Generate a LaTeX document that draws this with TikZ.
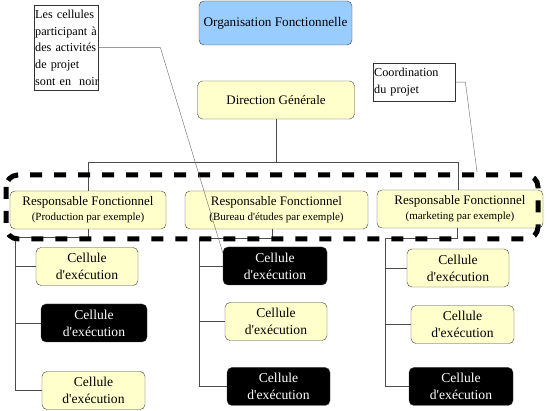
\documentclass[tikz,border=0pt]{standalone}
\usepackage{fontspec}
\setmainfont{Liberation Serif}
\usetikzlibrary{positioning}
\definecolor{jaune}{HTML}{FFFFCC}
\definecolor{bleu}{HTML}{99CCFF}
\newcommand{\apos}{\textquotesingle}

\begin{document}
\begin{tikzpicture}[x=1pt,y=-1pt,
		boite/.style={draw=black!75,rounded corners=5pt,fill=jaune,inner sep=0pt,align=center,font=\fontsize{13}{15}\selectfont},
		cellule/.style={boite,minimum width=103pt,minimum height=38pt,font=\fontsize{13.6}{17}\selectfont},
		noire/.style={cellule,fill=black,text=white},
		note/.style={draw=black!80,inner sep=1pt,align=left,font=\fontsize{12.2}{16.7}\selectfont},
		lien/.style={draw=black!70}]
		\useasboundingbox (0,0) rectangle (547,411);
		% haut
		\node [boite,fill=bleu,minimum width=153pt,minimum height=44pt,font=\fontsize{13.2}{15}\selectfont] (Org) at (275.5,23) {Organisation Fonctionnelle};
		\node [boite,minimum width=157pt,minimum height=38pt] (Dir) at (276,100) {Direction G\'en\'erale};
		\node [boite,minimum width=156pt,minimum height=38pt] (R1) at (88,210) {Responsable Fonctionnel\\{\fontsize{11}{12}\selectfont (Production par exemple)}};
		\node [boite,minimum width=183pt,minimum height=38pt] (R2) at (276.5,210) {Responsable Fonctionnel\\{\fontsize{11}{12}\selectfont (Bureau d\apos\'etudes par exemple)}};
		\node [boite,minimum width=166pt,minimum height=38pt] (R3) at (460,209) {Responsable Fonctionnel\\{\fontsize{11}{12}\selectfont (marketing par exemple)}};
		% cellules
		\node [cellule,minimum width=102pt] (C1a) at (87,266.5) {Cellule\\d\apos ex\'ecution};
		\node [noire,minimum width=106pt] (C1b) at (94,323) {Cellule\\d\apos ex\'ecution};
		\node [cellule] (C1c) at (93.5,390.5) {Cellule\\d\apos ex\'ecution};
		\node [noire,minimum width=104pt] (C2a) at (275,266) {Cellule\\d\apos ex\'ecution};
		\node [cellule,minimum width=102pt] (C2b) at (276,321.5) {Cellule\\d\apos ex\'ecution};
		\node [noire] (C2c) at (278.5,386.5) {Cellule\\d\apos ex\'ecution};
		\node [cellule,minimum width=102pt] (C3a) at (458,268) {Cellule\\d\apos ex\'ecution};
		\node [cellule] (C3b) at (462.5,324.5) {Cellule\\d\apos ex\'ecution};
		\node [noire,minimum width=104pt] (C3c) at (461,386.5) {Cellule\\d\apos ex\'ecution};
		% notes
		\node [note,text width=62pt,minimum height=85pt,anchor=north west] (N1) at (34,5) {\mbox{Les cellules}\\\mbox{participant \`a}\\\mbox{des activit\'es}\\\mbox{de projet}\\\mbox{sont en\ \ noir}};
		\node [note,text width=80pt,minimum height=38pt,anchor=north west] (N2) at (373,63) {Coordination\\du projet};
		% liaisons
		\coordinate (Barre) at (0,162);
		\draw [lien] (Dir.south) -- (Dir.south |- Barre);
		\draw [lien] (R1.north) -- (R1.north |- Barre) -| ([xshift=-2pt]R3.north);
		\coordinate (S1) at (15,237);
		\coordinate (S2) at (199,238);
		\coordinate (S3) at (385,238);
		\draw [lien] (R1.south) |- (S1) |- (C1c.west);
		\draw [lien] (S1 |- C1a.west) -- (C1a.west);
		\draw [lien] (S1 |- C1b.west) -- (C1b.west);
		\draw [lien] ([xshift=-4pt]R2.south) |- (S2) |- (C2c.west);
		\draw [lien] (S2 |- C2a.west) -- (C2a.west);
		\draw [lien] (S2 |- C2b.west) -- (C2b.west);
		\draw [lien] ([xshift=-3pt]R3.south) |- (S3) |- (C3c.west);
		\draw [lien] (S3 |- C3a.west) -- (C3a.west);
		\draw [lien] (S3 |- C3b.west) -- (C3b.west);
		% bande du projet
		\draw [line width=5pt,dash pattern=on 12pt off 12pt,rounded corners=12pt] (6,175) rectangle (538,239);
		\coordinate (Coord) at (477,172);
		\draw [black!60] (N1.east) -- ++(62,0) -- ([yshift=-6pt]C2a.north west);
		\draw [black!60] (N2.east) -- ++(10,0) -- (Coord);
	\end{tikzpicture}
\end{document}
